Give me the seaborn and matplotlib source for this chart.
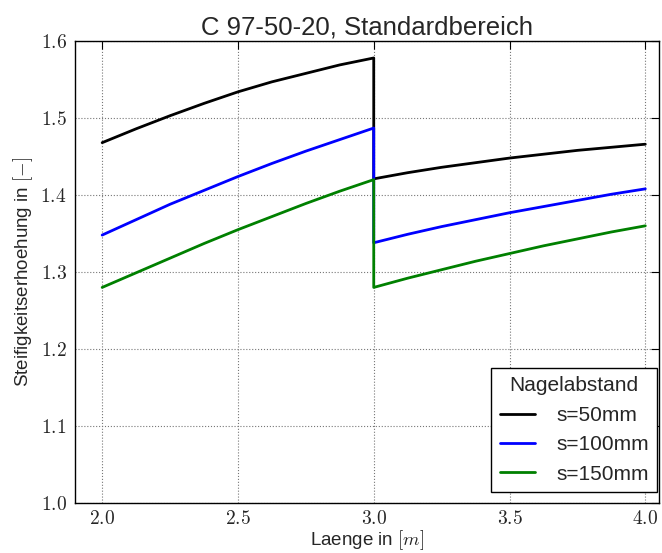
import matplotlib
matplotlib.use("Agg")
import matplotlib.pyplot as plt
import matplotlib.ticker as mticker
import seaborn as sns
import pandas as pd

# values
x_left = [2.0, 2.125, 2.25, 2.375, 2.5, 2.625, 2.75, 2.875, 3.0]
x_right = [3.0, 3.125, 3.25, 3.375, 3.5, 3.625, 3.75, 3.875, 4.0]

s50_left = [1.468, 1.486, 1.503, 1.519, 1.534, 1.547, 1.558, 1.569, 1.578]
s50_right = [1.421, 1.429, 1.436, 1.442, 1.448, 1.453, 1.458, 1.462, 1.466]
s100_left = [1.348, 1.368, 1.388, 1.406, 1.424, 1.441, 1.457, 1.472, 1.487]
s100_right = [1.338, 1.349, 1.359, 1.368, 1.377, 1.385, 1.393, 1.401, 1.408]
s150_left = [1.280, 1.299, 1.318, 1.337, 1.355, 1.372, 1.389, 1.405, 1.420]
s150_right = [1.280, 1.292, 1.303, 1.314, 1.324, 1.334, 1.343, 1.352, 1.360]

labels = ["s=50mm", "s=100mm", "s=150mm"]
colors = ["black", "blue", "green"]
x_ticks = [2.0, 2.5, 3.0, 3.5, 4.0]
y_ticks = [1.0, 1.1, 1.2, 1.3, 1.4, 1.5, 1.6]


def build_frame():
    rows = []
    series = [(s50_left, s50_right), (s100_left, s100_right), (s150_left, s150_right)]
    for lab, (left, right) in zip(labels, series):
        xs = x_left + x_right
        ys = left + right
        for xv, yv in zip(xs, ys):
            rows.append({"x": xv, "y": yv, "s": lab})
    return pd.DataFrame(rows)


def main():
    sns.set_style("white")
    plt.rcParams["font.family"] = ["Liberation Sans", "DejaVu Sans"]
    plt.rcParams["mathtext.fontset"] = "cm"

    df = build_frame()

    fig = plt.figure(figsize=(6.62, 5.53), dpi=100)
    ax = fig.add_axes([0.1133, 0.0904, 0.882, 0.8354])

    sns.lineplot(data=df, x="x", y="y", hue="s", palette=colors,
                 hue_order=labels, sort=False, estimator=None,
                 linewidth=2, ax=ax)

    ax.set_xlim(1.9, 4.05)
    ax.set_ylim(1.0, 1.6)
    ax.xaxis.set_major_locator(mticker.FixedLocator(x_ticks))
    ax.yaxis.set_major_locator(mticker.FixedLocator(y_ticks))
    fmt = mticker.FuncFormatter(lambda v, p: f"${v:.1f}$")
    ax.xaxis.set_major_formatter(fmt)
    ax.yaxis.set_major_formatter(fmt)
    ax.tick_params(direction="in", top=True, right=True, length=6, width=0.8,
                   labelsize=14, color="black")
    ax.tick_params(axis="x", pad=5)
    ax.tick_params(axis="y", pad=6)

    ax.grid(True, linestyle=":", color="#777777", linewidth=0.8)
    for sp in ax.spines.values():
        sp.set_color("black")
        sp.set_linewidth(1.0)

    ax.set_title("C 97-50-20, Standardbereich", fontsize=18.5, pad=5)
    ax.set_xlabel("Laenge in $[m]$", fontsize=13.5, labelpad=0)
    ax.set_ylabel("Steifigkeitserhoehung in $[-]$", fontsize=13.5, labelpad=4)

    leg = ax.legend(title="Nagelabstand", loc="lower right",
                    bbox_to_anchor=(0.9966, 0.0238), borderaxespad=0,
                    fontsize=15, title_fontsize=15, fancybox=False,
                    framealpha=1, edgecolor="black", handlelength=1.7,
                    handletextpad=1.0)
    leg.get_frame().set_linewidth(1.0)

    fig.savefig("out.png", dpi=100)


if __name__ == "__main__":
    main()
